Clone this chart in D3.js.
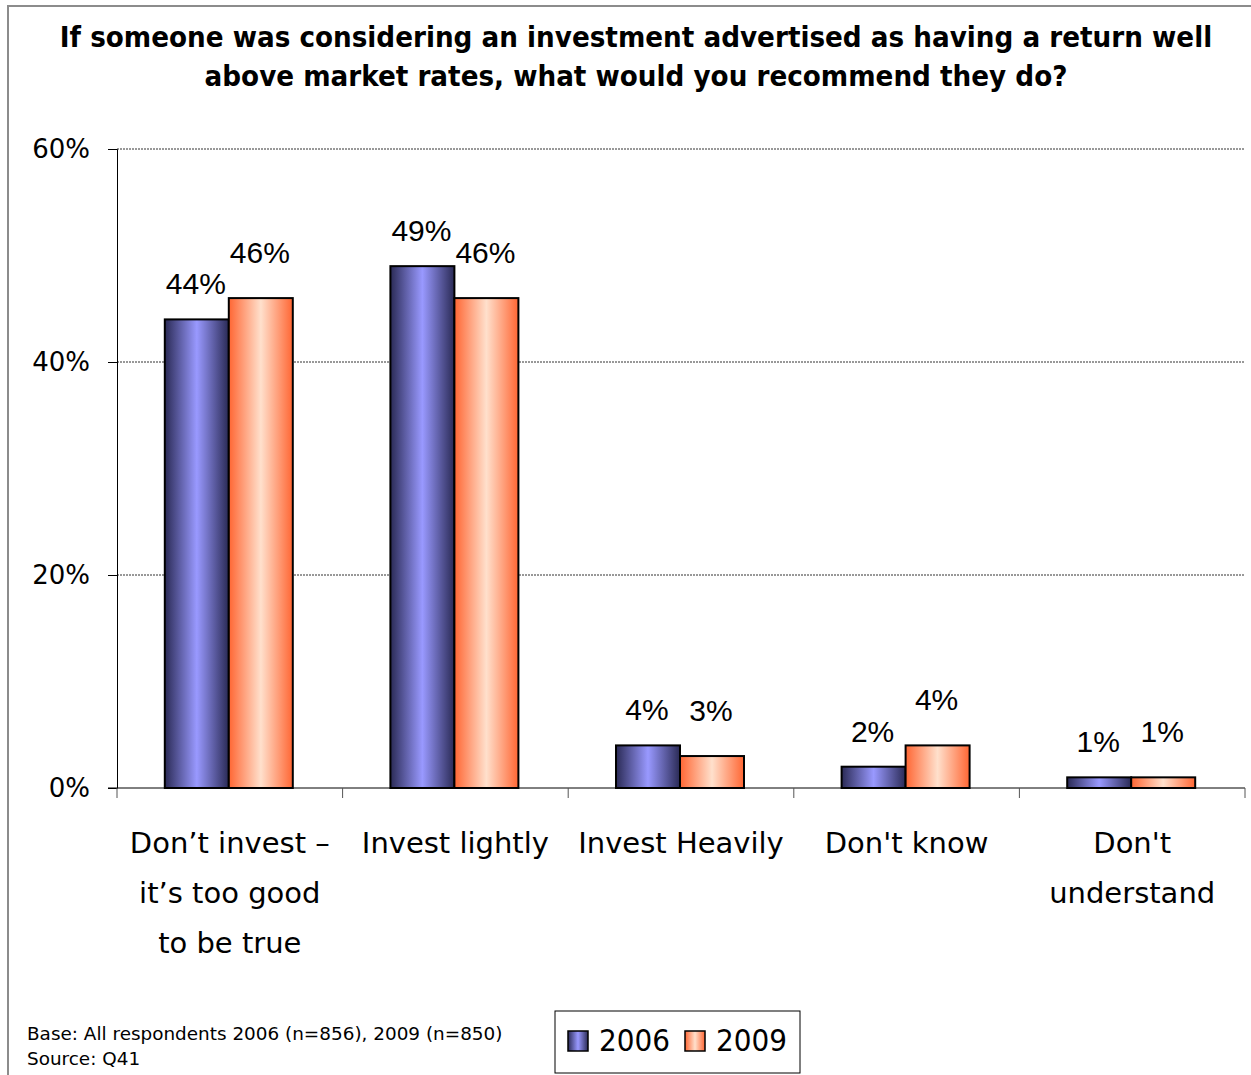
<!DOCTYPE html>
<html>
<head>
<meta charset="utf-8">
<script src="https://cdn.jsdelivr.net/npm/d3@7"></script>
<style>
  body { margin: 0; background: #fff; }
  svg text { font-family: "DejaVu Sans", sans-serif; fill: #000; }
</style>
</head>
<body>
<div id="chart"></div>
<script>
// data
var categories = [
  ["Don\u2019t invest \u2013", "it\u2019s too good", "to be true"],
  ["Invest lightly"],
  ["Invest Heavily"],
  ["Don't know"],
  ["Don't", "understand"]
];
var years = ["2006", "2009"];
var values2006 = [44, 49, 4, 2, 1];
var values2009 = [46, 46, 3, 4, 1];
var yTicks = [0, 20, 40, 60];
var titleLines = [
  "If someone was considering an investment advertised as having a return well",
  "above market rates, what would you recommend they do?"
];
var footnotes = ["Base: All respondents 2006 (n=856), 2009 (n=850)", "Source: Q41"];

var w = 1251, h = 1075;
var plotLeft = 117, plotRight = 1245, plotTop = 149, plotBottom = 788;
var condensed = '"DejaVu Sans Condensed", "DejaVu Sans", sans-serif';

var svg = d3.select('#chart').append('svg')
  .attr('width', w)
  .attr('height', h);

// gradients for the bars
var defs = svg.append('defs');
var grads = [
  { id: 'g2006', edge: '#2a2a55', mid: '#9999ff' },
  { id: 'g2009', edge: '#ff6633', mid: '#ffe0cc' }
];
grads.forEach(function(g) {
  var lg = defs.append('linearGradient').attr('id', g.id)
    .attr('x1', '0%').attr('x2', '100%').attr('y1', '0%').attr('y2', '0%');
  lg.append('stop').attr('offset', '0%').attr('stop-color', g.edge);
  lg.append('stop').attr('offset', '50%').attr('stop-color', g.mid);
  lg.append('stop').attr('offset', '100%').attr('stop-color', g.edge);
});

// outer frame
svg.append('rect')
  .attr('x', 8).attr('y', 6)
  .attr('width', w + 10).attr('height', h + 10)
  .attr('fill', 'none')
  .attr('stroke', '#8c8c8c')
  .attr('stroke-width', 2);

// title
svg.append('text')
  .attr('text-anchor', 'middle')
  .attr('font-weight', 'bold')
  .attr('font-size', 29.2)
  .style('font-family', condensed)
  .selectAll('tspan')
  .data(titleLines)
  .enter().append('tspan')
  .attr('x', 636)
  .attr('y', function(d, i) { return 47 + i * 39; })
  .text(function(d) { return d; });

var x = d3.scaleBand()
  .domain(d3.range(categories.length))
  .range([plotLeft, plotRight]);

var x1 = d3.scaleBand()
  .domain(years)
  .range([0, 128]);

var y = d3.scaleLinear()
  .domain([0, 60])
  .range([plotBottom, plotTop]);

// gridlines
svg.append('g')
  .selectAll('line')
  .data(yTicks.filter(function(d) { return d > 0; }))
  .enter().append('line')
  .attr('x1', plotLeft).attr('x2', plotRight)
  .attr('y1', function(d) { return y(d); })
  .attr('y2', function(d) { return y(d); })
  .attr('stroke', '#333')
  .attr('stroke-width', 1)
  .attr('stroke-dasharray', '2,1');

// y axis
var yAxis = svg.append('g')
  .attr('transform', 'translate(' + plotLeft + ',0)')
  .call(d3.axisLeft(y).tickValues(yTicks).tickSize(9).tickPadding(18)
    .tickFormat(function(d) { return d + '%'; }));
yAxis.select('.domain').attr('stroke', '#000');
yAxis.selectAll('.tick line').attr('stroke', '#000');
yAxis.selectAll('text')
  .attr('font-size', 26)
  .attr('font-family', condensed)
  .attr('fill', '#000');

// x axis line and category ticks
var xg = svg.append('g');
xg.append('line')
  .attr('x1', plotLeft - 9).attr('x2', plotRight)
  .attr('y1', plotBottom).attr('y2', plotBottom)
  .attr('stroke', '#000');
xg.selectAll('line.tk')
  .data(d3.range(categories.length + 1))
  .enter().append('line')
  .attr('class', 'tk')
  .attr('x1', function(d) { return d < categories.length ? x(d) : plotRight; })
  .attr('x2', function(d) { return d < categories.length ? x(d) : plotRight; })
  .attr('y1', plotBottom).attr('y2', plotBottom + 10)
  .attr('stroke', '#555');

// bars
var series = [
  { year: '2006', values: values2006, fill: 'url(#g2006)', dy: -25 },
  { year: '2009', values: values2009, fill: 'url(#g2009)', dy: -35 }
];

series.forEach(function(s) {
  var g = svg.append('g');
  g.selectAll('rect')
    .data(s.values)
    .enter().append('rect')
    .attr('x', function(d, i) { return x(i) + x.bandwidth() / 2 - 65 + x1(s.year); })
    .attr('y', function(d) { return y(d); })
    .attr('width', x1.bandwidth())
    .attr('height', function(d) { return plotBottom - y(d); })
    .attr('fill', s.fill)
    .attr('stroke', '#000')
    .attr('stroke-width', 2);

  g.selectAll('text')
    .data(s.values)
    .enter().append('text')
    .attr('x', function(d, i) { return x(i) + x.bandwidth() / 2 - 66 + x1(s.year) + x1.bandwidth() / 2; })
    .attr('y', function(d) { return y(d) + s.dy; })
    .attr('text-anchor', 'middle')
    .attr('font-size', 30)
    .style('font-family', '"Liberation Sans", Arial, sans-serif')
    .text(function(d) { return d + '%'; });
});

// category labels
svg.append('g')
  .selectAll('text')
  .data(categories)
  .enter().append('text')
  .attr('text-anchor', 'middle')
  .attr('font-size', 29)
  .each(function(lines, i) {
    d3.select(this).selectAll('tspan')
      .data(lines)
      .enter().append('tspan')
      .attr('x', x(i) + x.bandwidth() / 2)
      .attr('y', function(d, j) { return 853 + j * 50; })
      .text(function(d) { return d; });
  });

// footnotes
svg.append('g')
  .selectAll('text')
  .data(footnotes)
  .enter().append('text')
  .attr('x', 27)
  .attr('y', function(d, i) { return 1040 + i * 25; })
  .attr('font-size', 18.4)
  .text(function(d) { return d; });

// legend
var legend = svg.append('g');
legend.append('rect')
  .attr('x', 555).attr('y', 1011)
  .attr('width', 245).attr('height', 62)
  .attr('fill', '#fff')
  .attr('stroke', '#000')
  .attr('stroke-width', 1);
var li = legend.selectAll('g.item')
  .data(series)
  .enter().append('g')
  .attr('class', 'item')
  .attr('transform', function(d, i) { return 'translate(' + (568 + i * 117) + ',1031)'; });
li.append('rect')
  .attr('width', 20).attr('height', 20)
  .attr('fill', function(d) { return d.fill; })
  .attr('stroke', '#000')
  .attr('stroke-width', 1.5);
li.append('text')
  .attr('x', 31).attr('y', 20)
  .attr('font-size', 31)
  .style('font-family', condensed)
  .text(function(d) { return d.year; });
</script>
</body>
</html>
